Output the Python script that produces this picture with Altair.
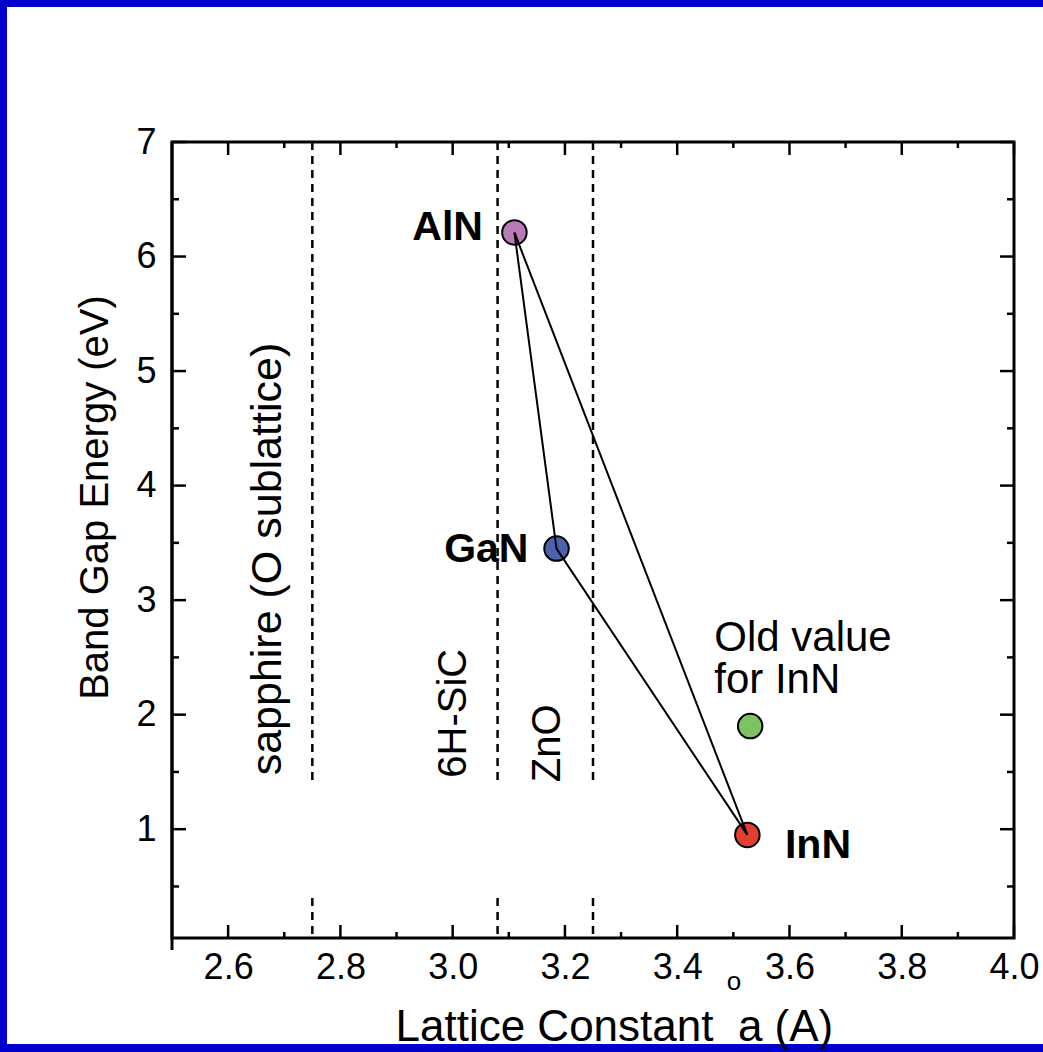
import altair as alt
import pandas as pd

# ---------------- data ----------------
materials = ["AlN", "GaN", "InN", "InN old"]
lattice_a = [3.11, 3.185, 3.525, 3.53]
band_gap = [6.21, 3.45, 0.95, 1.9]
point_colors = ["#b87ab9", "#4a62ad", "#e0412f", "#7cc366"]

triangle_path = ["AlN", "GaN", "InN", "AlN"]

substrates = ["sapphire (O sublattice)", "6H-SiC", "ZnO"]
substrate_a = [2.75, 3.08, 3.25]
dash_upper = [7.0, 1.43]
dash_lower = [0.40, 0.05]
substrate_label_a = [2.694, 3.024, 3.191]
substrate_label_e = [1.47, 1.45, 1.41]

bold_labels = ["AlN", "GaN"]
bold_label_a = [3.054, 3.135]
bold_label_e = [6.14, 3.33]
inn_label = ["InN"]
inn_label_a = [3.592]
inn_label_e = [0.75]
old_lines = ["Old value", "for InN"]
old_label_a = [3.466, 3.466]
old_label_e = [2.56, 2.19]

x_major = [2.6, 2.8, 3.0, 3.2, 3.4, 3.6, 3.8, 4.0]
x_minor = [2.7, 2.9, 3.1, 3.3, 3.5, 3.7, 3.9]
y_major = [1, 2, 3, 4, 5, 6, 7]
y_minor = [0.5, 1.5, 2.5, 3.5, 4.5, 5.5, 6.5]

X_DOMAIN = [2.5, 4.0]
Y_DOMAIN = [0.05, 7.0]

NB = "\u00a0"
X_TITLE = "Lattice Constant" + NB * 2 + "a" + NB + "(A)"

# ---------------- layout ----------------
W, H = 842, 796
PAD = {"left": 172, "top": 142, "right": 29, "bottom": 114}
FONT = "Liberation Sans"

x_axis = alt.Axis(
    values=x_major, format=".1f", domain=False, ticks=False, tickSize=0, grid=False,
    labelFont=FONT, labelFontSize=36, labelColor="black", labelPadding=12,
    labelFlush=False, labelOverlap=False,
    title=X_TITLE, titleFont=FONT, titleFontSize=44,
    titleFontWeight="normal", titleColor="black",
    titleAnchor="start", titleAlign="left", titleBaseline="alphabetic",
    titleX=223, titleY=102, zindex=1,
)
y_axis = alt.Axis(
    values=y_major, format="d", domain=False, ticks=False, tickSize=0, grid=False,
    labelFont=FONT, labelFontSize=36, labelColor="black", labelPadding=16,
    labelOverlap=False,
    title="Band Gap Energy (eV)", titleFont=FONT, titleFontSize=40,
    titleFontWeight="normal", titleColor="black", titleAngle=270,
    titleAlign="center", titleBaseline="alphabetic",
    titleX=-65, titleY=355, zindex=1,
)

xs = alt.Scale(domain=X_DOMAIN, nice=False, zero=False)
ys = alt.Scale(domain=Y_DOMAIN, nice=False, zero=False)


def X():
    return alt.X("a:Q", scale=xs, axis=x_axis)


def Y(field="e:Q"):
    return alt.Y(field, scale=ys, axis=y_axis)


one = pd.DataFrame({"k": [0]})

# white page inside the blue frame
page = alt.Chart(one).mark_rect(color="white").encode(
    x=alt.value(7 - PAD["left"]), x2=alt.value(W + PAD["right"] + 5),
    y=alt.value(7 - PAD["top"]), y2=alt.value(H + 106),
)

# plot frame
frame = alt.Chart(one).mark_rect(filled=False, stroke="black", strokeWidth=3).encode(
    x=alt.value(0), x2=alt.value(W), y=alt.value(0), y2=alt.value(H),
)
left_ext = alt.Chart(one).mark_rule(color="black", strokeWidth=3).encode(
    x=alt.value(0), y=alt.value(0), y2=alt.value(H + 12),
)


# inward ticks on all sides
def xticks(vals, length):
    d = pd.DataFrame({"a": vals})
    b = alt.Chart(d).mark_rule(color="black", strokeWidth=2.5).encode(
        x=X(), y=alt.value(H), y2=alt.value(H - length))
    t = alt.Chart(d).mark_rule(color="black", strokeWidth=2.5).encode(
        x=X(), y=alt.value(0), y2=alt.value(length))
    return [b, t]


def yticks(vals, length):
    d = pd.DataFrame({"e": vals})
    l = alt.Chart(d).mark_rule(color="black", strokeWidth=2.5).encode(
        y=Y(), x=alt.value(0), x2=alt.value(length))
    r = alt.Chart(d).mark_rule(color="black", strokeWidth=2.5).encode(
        y=Y(), x=alt.value(W), x2=alt.value(W - length))
    return [l, r]


tick_layers = xticks(x_major, 13) + xticks(x_minor, 6) + yticks(y_major, 14) + yticks(y_minor, 7)

# dashed substrate lines
dash_df = pd.DataFrame({
    "a": substrate_a * 2,
    "e": [dash_upper[0]] * 3 + [dash_lower[0]] * 3,
    "e2": [dash_upper[1]] * 3 + [dash_lower[1]] * 3,
})
dashes = alt.Chart(dash_df).mark_rule(color="black", strokeWidth=2.5, strokeDash=[8, 6]).encode(
    x=X(), y=Y(), y2="e2:Q",
)

sub_df = pd.DataFrame({"a": substrate_label_a, "e": substrate_label_e, "t": substrates,
                       "fs": [43, 40, 40]})
sub_text = alt.Chart(sub_df).mark_text(
    angle=270, align="left", baseline="alphabetic", font=FONT, color="black",
).encode(x=X(), y=Y(), text="t:N", size=alt.Size("fs:Q", scale=None, legend=None))

# points
pt_df = pd.DataFrame({"m": materials, "a": lattice_a, "e": band_gap, "c": point_colors})
points = alt.Chart(pt_df).mark_point(
    shape="circle", filled=True, size=600, stroke="black", strokeWidth=2, opacity=1,
).encode(x=X(), y=Y(), fill=alt.Fill("c:N", scale=None))

# triangle lines
lookup = dict(zip(materials, zip(lattice_a, band_gap)))
tri_df = pd.DataFrame({
    "k": list(range(len(triangle_path))),
    "a": [lookup[m][0] for m in triangle_path],
    "e": [lookup[m][1] for m in triangle_path],
})
tri = alt.Chart(tri_df).mark_line(color="black", strokeWidth=2).encode(
    x=X(), y=Y(), order="k:O")

bold_df = pd.DataFrame({"a": bold_label_a, "e": bold_label_e, "t": bold_labels})
bold_text = alt.Chart(bold_df).mark_text(
    align="right", baseline="alphabetic", font=FONT, fontSize=41, fontWeight="bold", color="black",
).encode(x=X(), y=Y(), text="t:N")

inn_df = pd.DataFrame({"a": inn_label_a, "e": inn_label_e, "t": inn_label})
inn_text = alt.Chart(inn_df).mark_text(
    align="left", baseline="alphabetic", font=FONT, fontSize=41, fontWeight="bold", color="black",
).encode(x=X(), y=Y(), text="t:N")

old_df = pd.DataFrame({"a": old_label_a, "e": old_label_e, "t": old_lines})
old_text = alt.Chart(old_df).mark_text(
    align="left", baseline="alphabetic", font=FONT, fontSize=42, color="black",
).encode(x=X(), y=Y(), text="t:N")

# small "o" over the a in the axis title
ring = alt.Chart(one).mark_text(
    font=FONT, fontSize=26, color="black", align="center", baseline="alphabetic",
).encode(x=alt.value(562), y=alt.value(H + 52), text=alt.value("o"))

chart = alt.layer(
    page, *tick_layers, dashes, sub_text, points, tri, bold_text, inn_text, old_text,
    frame, left_ext, ring,
).properties(
    width=W, height=H, padding=PAD, autosize=alt.AutoSizeParams(type="none"),
    background="#0000cc",
).configure_view(strokeWidth=0)

chart.save("out.html", embed_options={"renderer": "svg", "actions": False})
